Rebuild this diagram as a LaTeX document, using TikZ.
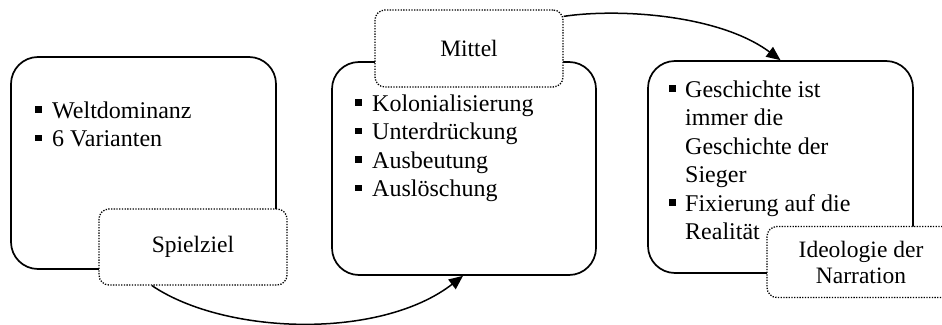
\documentclass[tikz,border=0pt]{standalone}
\usepackage{fontspec}
\setmainfont{Liberation Serif}
\usetikzlibrary{arrows.meta}
\newcommand\bulsq{\rule[5.5pt]{6.5pt}{6.5pt}}
\begin{document}
\begin{tikzpicture}[x=1pt,y=-1pt,
  mainbox/.style={draw,line width=1.7pt,rounded corners=27pt,inner sep=0pt,fill=white},
  labelbox/.style={draw,line width=1.3pt,dash pattern=on 1.3pt off 1.4pt,rounded corners=10pt,fill=white,inner sep=0pt,align=center,font=\fontsize{23.5}{26}\selectfont},
  itemtext/.style={inner sep=0pt,anchor=base west,font=\fontsize{24}{28.5}\selectfont},
  conn/.style={line width=1.5pt,-{Triangle[length=14pt,width=12pt]}}]
\useasboundingbox (0,0) rectangle (942,324);
% main boxes
\node[mainbox,minimum width=265pt,minimum height=212pt] (b1) at (143.5,163) {};
\node[mainbox,minimum width=264pt,minimum height=213pt] (b2) at (464,168.5) {};
\node[mainbox,minimum width=265pt,minimum height=212pt] (b3) at (780.5,167) {};
% item texts
\node[itemtext] (t1) at (35,118) {\begin{tabular}[t]{@{}l@{\hspace{10.5pt}}l@{}}
\bulsq & Weltdominanz\\
\bulsq & 6 Varianten
\end{tabular}};
\node[itemtext] (t2) at (355,111) {\begin{tabular}[t]{@{}l@{\hspace{10.5pt}}l@{}}
\bulsq & Kolonialisierung\\
\bulsq & Unterdrückung\\
\bulsq & Ausbeutung\\
\bulsq & Auslöschung
\end{tabular}};
\node[itemtext] (t3) at (669,97) {\begin{tabular}[t]{@{}l@{\hspace{9.5pt}}l@{}}
\bulsq & Geschichte ist\\
 & immer die\\
 & Geschichte der\\
 & Sieger\\
\bulsq & Fixierung auf die\\
 & Realität
\end{tabular}};
% label boxes
\node[labelbox,minimum width=188pt,minimum height=76pt] (sz) at (193,247) {Spielziel};
\node[labelbox,minimum width=188pt,minimum height=77pt] (mi) at (469,48.5) {Mittel};
\node[labelbox,minimum width=188pt,minimum height=71pt] (id) at (861,262) {Ideologie der\\Narration};
% connectors
\draw[conn] ([xshift=-41pt]sz.south) .. controls (225,335) and (380,340) .. ([xshift=-1pt]b2.south);
\draw[conn] ([yshift=-7pt]mi.north east) .. controls (620,8) and (720,15) .. (b3.north);
\end{tikzpicture}
\end{document}
